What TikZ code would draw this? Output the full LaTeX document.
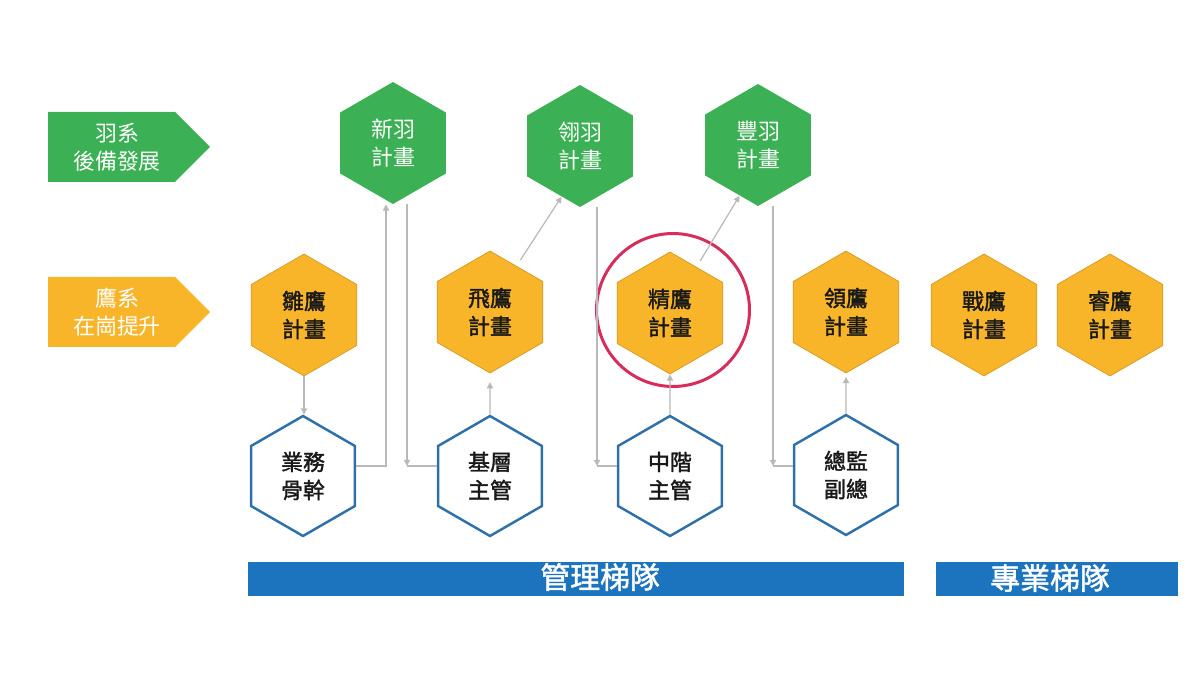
\documentclass[tikz,border=0pt]{standalone}
\usepackage{fontspec}
\newfontfamily\cjk{Noto Sans CJK TC}
\newfontfamily\cjkheavy[AutoFakeBold=1.6]{Noto Sans CJK TC}
\usetikzlibrary{arrows.meta, positioning, shapes.geometric, calc}

\definecolor{leafgreen}{RGB}{60,176,84}
\definecolor{hawkorange}{RGB}{248,181,42}
\definecolor{rungblue}{RGB}{46,112,170}
\definecolor{barblue}{RGB}{27,116,189}
\definecolor{ringred}{RGB}{214,45,90}
\definecolor{linkgray}{RGB}{185,185,185}

\begin{document}
\begin{tikzpicture}[
    x=0.02cm, y=-0.02cm,
    hexa/.style={
        regular polygon, regular polygon sides=6, shape border rotate=30,
        minimum size=2.44cm, inner sep=0pt, align=center,
        font=\cjk\fontsize{12.5}{16}\selectfont
    },
    yu/.style={hexa, fill=leafgreen, text=white},
    ying/.style={hexa, fill=hawkorange, draw=hawkorange!85!black, line width=0.4pt, text=black!90,
        font=\cjkheavy\bfseries\fontsize{12.5}{16}\selectfont},
    rank/.style={hexa, fill=white, draw=rungblue, line width=1.4pt, text=black!90, minimum size=2.4cm,
        font=\cjkheavy\bfseries\fontsize{12.5}{16}\selectfont},
    tagtext/.style={font=\cjk\fontsize{12.5}{16}\selectfont, text=white, align=center},
    bar/.style={fill=barblue, minimum height=0.7cm, inner sep=0pt},
    bartext/.style={font=\cjkheavy\bfseries\fontsize{17}{20}\selectfont, text=white},
    link/.style={draw=linkgray, line width=0.7pt},
    arr/.style={link, -{Triangle[length=3.5pt,width=3.5pt]}}
]
    \useasboundingbox (0,0) rectangle (1200,675);

    % Row tags on the left
    \fill[leafgreen] (48,112) -- (175,112) -- (210,147) -- (175,182) -- (48,182) -- cycle;
    \node[tagtext] (yutag) at (117,147) {羽系\\後備發展};
    \fill[hawkorange] (48,277) -- (175,277) -- (210,312) -- (175,347) -- (48,347) -- cycle;
    \node[tagtext] (yingtag) at (117,312) {鷹系\\在崗提升};

    % Green row
    \node[yu] (xinyu)  at (393,143) {新羽\\計畫};
    \node[yu] (lingyu) at (580,146) {翎羽\\計畫};
    \node[yu] (fengyu) at (758,145) {豐羽\\計畫};

    % Orange row
    \node[ying] (chuying)  at (304,315) {雛鷹\\計畫};
    \node[ying] (feiying)  at (490,312) {飛鷹\\計畫};
    \node[ying] (jingying) at (670,313) {精鷹\\計畫};
    \node[ying] (lingying) at (846,312) {領鷹\\計畫};
    \node[ying] (zhanying) at (984,315) {戰鷹\\計畫};
    \node[ying] (ruiying)  at (1110,315) {睿鷹\\計畫};

    % Highlight ring
    \node[circle, draw=ringred, line width=1.7pt, minimum size=3.06cm] (ring) at (673,310) {};

    % Ranks
    \node[rank] (yewu)     at (303,476) {業務\\骨幹};
    \node[rank] (jiceng)   at (490,476) {基層\\主管};
    \node[rank] (zhongjie) at (670,476) {中階\\主管};
    \node[rank] (zongjian) at (846,475) {總監\\副總};

    % Bars
    \node[bar, minimum width=13.14cm] (mgmt) at (576,579) {};
    \node[bartext] (mgmtlabel) at (600,577) {管理梯隊};
    \node[bar, minimum width=4.84cm] (prof) at (1057,579) {};
    \node[bartext] (proflabel) at (1050,578) {專業梯隊};

    % Connectors
    \coordinate (k1) at (386,466);
    \coordinate (k2) at (407,466);
    \coordinate (k3) at (597,466);
    \coordinate (k4) at (773,466);

    \draw[arr] (chuying.south) -- (chuying.south |- yewu.north);
    \draw[arr] (k1 -| yewu.east) -- (k1) -- (k1 |- xinyu.south);
    \draw[arr] (k2 |- xinyu.south) -- (k2);
    \draw[link] (k2) -- (k2 -| jiceng.west);
    \draw[arr, shorten >=5pt] (jiceng.north) -- (feiying.south);
    \draw[arr, shorten <=4pt] (feiying.60) -- (lingyu.250);
    \draw[arr] (k3 |- lingyu.south) -- (k3);
    \draw[link] (k3) -- (k3 -| zhongjie.west);
    \draw[arr] (zhongjie.north) -- (jingying.south);
    \draw[arr, shorten <=4pt] (jingying.60) -- (fengyu.250);
    \draw[arr] (k4 |- fengyu.south) -- (k4);
    \draw[link] (k4) -- (k4 -| zongjian.west);
    \draw[arr, shorten >=2pt] (zongjian.north) -- (lingying.south);
\end{tikzpicture}
\end{document}
